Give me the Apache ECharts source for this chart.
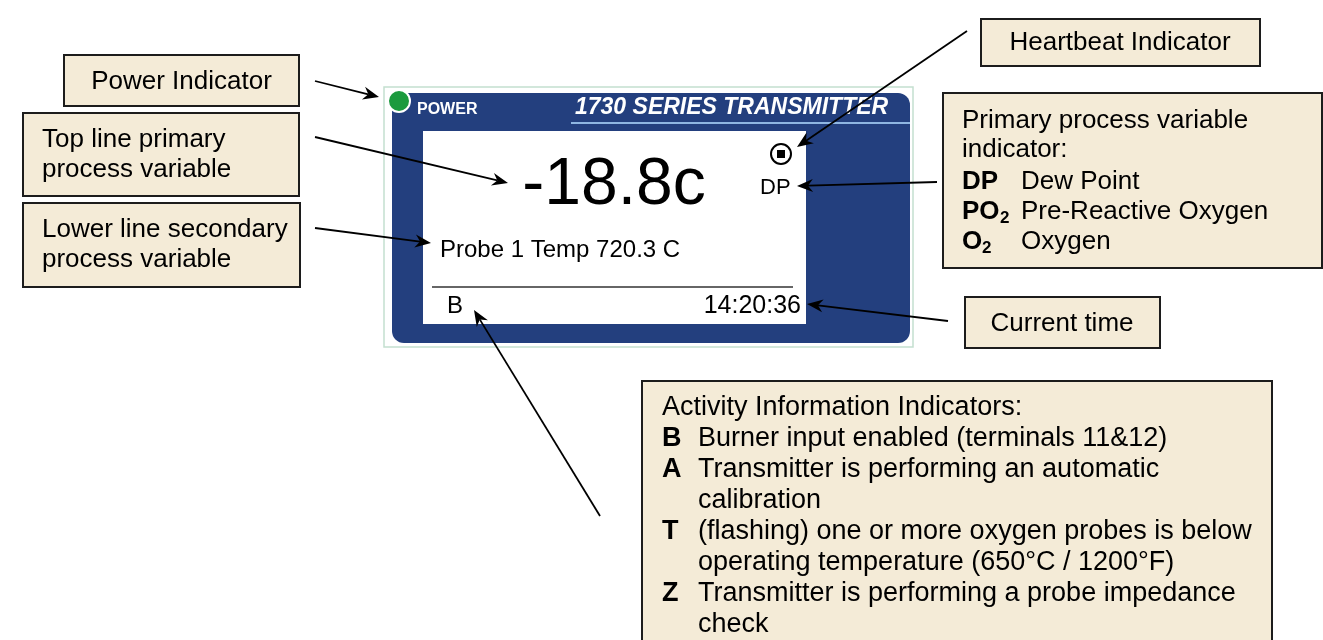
<!DOCTYPE html>
<html>
<head>
<meta charset="utf-8">
<style>
html, body { margin: 0; padding: 0; background: #ffffff; }
#main { width: 1323px; height: 640px; }
</style>
<script src="https://cdn.jsdelivr.net/npm/echarts@6/dist/echarts.min.js"></script>
</head>
<body>
<div id="main"></div>
<script type="text/javascript">
// texts of the callout boxes
var calloutLeft = [
	['Power Indicator'],
	['Top line primary', 'process variable'],
	['Lower line secondary', 'process variable']
];
var heartbeatLabel = 'Heartbeat Indicator';
var timeLabel = 'Current time';
var pvTitle = ['Primary process variable', 'indicator:'];
var pvCodes = ['DP', 'PO', 'O'];
var pvSubs = ['', '2', '2'];
var pvNames = ['Dew Point', 'Pre-Reactive Oxygen', 'Oxygen'];
var activityTitle = 'Activity Information Indicators:';
var activityCodes = ['B', 'A', 'T', 'Z'];
var activityLines = [
	['Burner input enabled (terminals 11&12)'],
	['Transmitter is performing an automatic', 'calibration'],
	['(flashing) one or more oxygen probes is below', 'operating temperature (650°C / 1200°F)'],
	['Transmitter is performing a probe impedance', 'check']
];
// texts on the transmitter face
var panelPower = 'POWER';
var panelTitle = '1730 SERIES TRANSMITTER';
var topReading = '-18.8c';
var pvShown = 'DP';
var lowerReading = 'Probe 1 Temp 720.3 C';
var activityShown = 'B';
var clockShown = '14:20:36';

var FONT = '"Liberation Sans", Arial, sans-serif';
var BOX_FILL = '#f4ebd7';
var BOX_LINE = '#1c1c1c';
var NAVY = '#233f7e';

function box(x, y, w, h) {
	return {
		type : 'rect',
		shape : { x : x, y : y, width : w, height : h },
		style : { fill : BOX_FILL, stroke : BOX_LINE, lineWidth : 2 }
	};
}
function txt(x, y, s, size, opt) {
	opt = opt || {};
	return {
		type : 'text',
		style : {
			x : x, y : y, text : s,
			font : (opt.italic ? 'italic ' : '') + (opt.bold ? 'bold ' : '') + size + 'px ' + FONT,
			fill : opt.color || '#000',
			textAlign : opt.align || 'left',
			textVerticalAlign : 'middle'
		}
	};
}
// line with a filled arrow head at (x2, y2)
function arrow(x1, y1, x2, y2) {
	var a = Math.atan2(y2 - y1, x2 - x1);
	var len = 16, half = 6.5, notch = 11;
	var bx = x2 - len * Math.cos(a), by = y2 - len * Math.sin(a);
	var nx = x2 - notch * Math.cos(a), ny = y2 - notch * Math.sin(a);
	var px = -Math.sin(a) * half, py = Math.cos(a) * half;
	return [ {
		type : 'line',
		shape : { x1 : x1, y1 : y1, x2 : nx, y2 : ny },
		style : { stroke : '#000', lineWidth : 1.8 }
	}, {
		type : 'polygon',
		shape : { points : [ [ x2, y2 ], [ bx + px, by + py ], [ nx, ny ], [ bx - px, by - py ] ] },
		style : { fill : '#000' }
	} ];
}

var els = [];
// transmitter face
els.push({ type : 'rect', shape : { x : 384, y : 87, width : 529, height : 260 },
	style : { fill : '#fff', stroke : '#c4e0d0', lineWidth : 1.5 } });
els.push({ type : 'rect', shape : { x : 392, y : 93, width : 518, height : 250, r : 12 },
	style : { fill : NAVY } });
els.push({ type : 'rect', shape : { x : 423, y : 131, width : 383, height : 193 },
	style : { fill : '#fff' } });
els.push({ type : 'line', shape : { x1 : 571, y1 : 123, x2 : 910, y2 : 123 },
	style : { stroke : '#8fb6e2', lineWidth : 2 } });
els.push({ type : 'circle', shape : { cx : 399, cy : 101, r : 11 },
	style : { fill : '#1b9a3e', stroke : '#ffffff', lineWidth : 2 } });
els.push(txt(417, 110, panelPower, 16, { bold : true, color : '#fff' }));
els.push(txt(575, 108, panelTitle, 23, { bold : true, italic : true, color : '#fff' }));
els.push(txt(614, 186, topReading, 66, { align : 'center' }));
els.push({ type : 'circle', shape : { cx : 781, cy : 154, r : 10 },
	style : { fill : '#fff', stroke : '#000', lineWidth : 2 } });
els.push({ type : 'rect', shape : { x : 777, y : 150, width : 8, height : 8 },
	style : { fill : '#000' } });
els.push(txt(760, 188, pvShown, 22));
els.push(txt(440, 250, lowerReading, 24));
els.push({ type : 'line', shape : { x1 : 432, y1 : 287, x2 : 793, y2 : 287 },
	style : { stroke : '#333', lineWidth : 1.5 } });
els.push(txt(447, 306, activityShown, 24));
els.push(txt(801, 306, clockShown, 25, { align : 'right' }));

// left callouts
var leftBoxes = [ [ 64, 55, 235, 51 ], [ 23, 113, 276, 83 ], [ 23, 203, 277, 84 ] ];
calloutLeft.forEach(function(lines, i) {
	var b = leftBoxes[i];
	els.push(box(b[0], b[1], b[2], b[3]));
	if (lines.length == 1) {
		els.push(txt(b[0] + b[2] / 2, b[1] + b[3] / 2 + 1, lines[0], 26, { align : 'center' }));
	} else {
		lines.forEach(function(s, j) {
			els.push(txt(b[0] + 19, b[1] + 27 + j * 30, s, 26));
		});
	}
});

// right callouts
els.push(box(981, 19, 279, 47));
els.push(txt(1120, 43, heartbeatLabel, 26, { align : 'center' }));
els.push(box(965, 297, 195, 51));
els.push(txt(1062, 324, timeLabel, 26, { align : 'center' }));

els.push(box(943, 93, 379, 175));
pvTitle.forEach(function(s, j) {
	els.push(txt(962, 121 + j * 29, s, 26));
});
pvCodes.forEach(function(c, j) {
	var y = 182 + j * 30;
	els.push(txt(962, y, c, 26, { bold : true }));
	if (pvSubs[j]) {
		var w = c == 'PO' ? 38 : 20;
		els.push(txt(962 + w, y + 6, pvSubs[j], 17, { bold : true }));
	}
	els.push(txt(1021, y, pvNames[j], 26));
});

els.push(box(642, 381, 630, 280));
els.push(txt(662, 408, activityTitle, 27));
var row = 1;
activityCodes.forEach(function(c, j) {
	els.push(txt(662, 408 + row * 31, c, 27, { bold : true }));
	activityLines[j].forEach(function(s) {
		els.push(txt(698, 408 + row * 31, s, 27));
		row++;
	});
});

// arrows from callouts to the face
var arrows = [
	[ 315, 81, 379, 97 ],
	[ 315, 137, 508, 183 ],
	[ 315, 228, 431, 243 ],
	[ 967, 31, 797, 147 ],
	[ 937, 182, 797, 186 ],
	[ 948, 321, 807, 304 ],
	[ 600, 516, 474, 310 ]
];
arrows.forEach(function(a) {
	els = els.concat(arrow(a[0], a[1], a[2], a[3]));
});

var myChart = echarts.init(document.getElementById('main'));
var option = {
	animation : false,
	graphic : { elements : els }
};
myChart.setOption(option);
</script>
</body>
</html>
